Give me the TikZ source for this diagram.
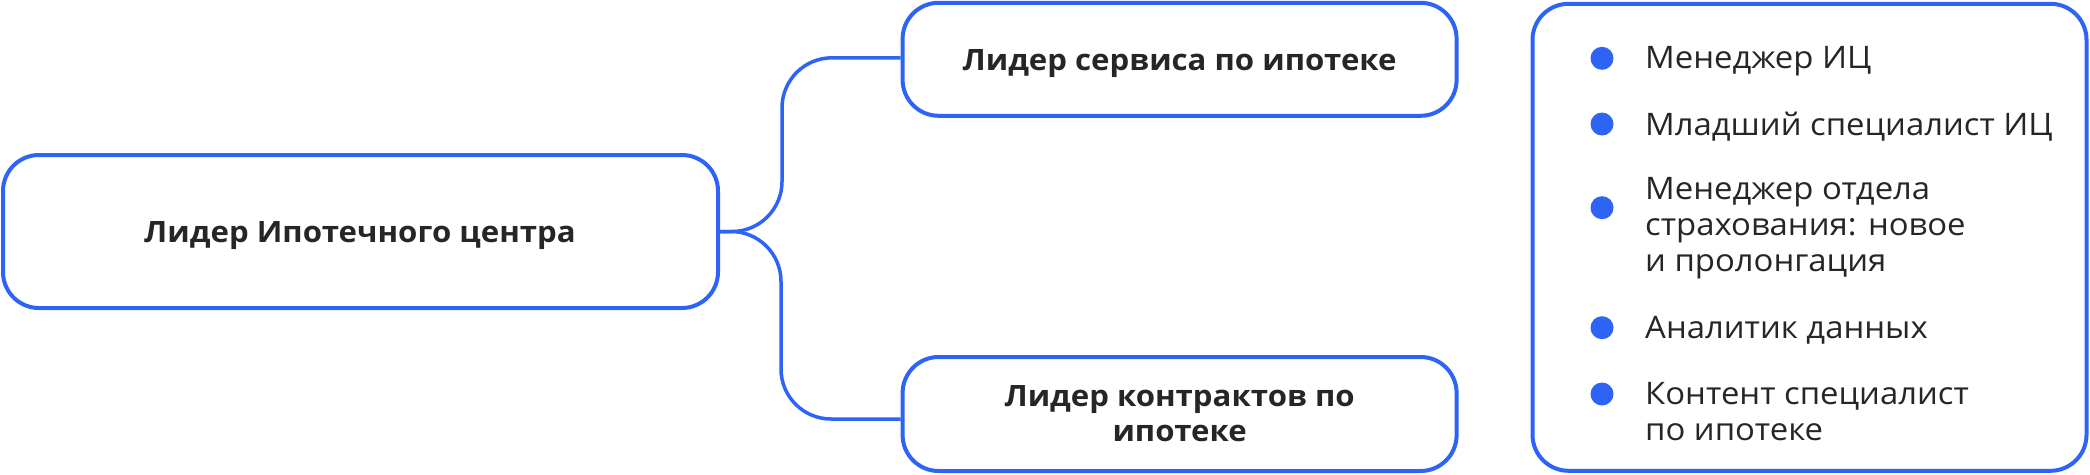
\documentclass[tikz,border=0pt]{standalone}
\usepackage{fontspec}
\setmainfont{Open Sans}[FakeStretch=1.06]
\definecolor{bl}{HTML}{2D64F5}
\definecolor{tx}{HTML}{262626}
\begin{document}
\begin{tikzpicture}[x=1pt,y=-1pt,
  box/.style={draw=bl, line width=4pt, rounded corners=36pt, fill=white, inner sep=0pt},
  conn/.style={draw=bl, line width=3.5pt, rounded corners=50pt},
  lbl/.style={text=tx, font=\fontsize{31}{36}\selectfont, inner sep=0pt},
  blbl/.style={text=tx, font=\fontsize{29.4}{35}\selectfont\bfseries, inner sep=0pt, align=center},
  dot/.style={circle, fill=bl, minimum size=23pt, inner sep=0pt}]
\useasboundingbox (0,0) rectangle (2090,474);
% boxes
\node[box, minimum width=715pt, minimum height=153pt] (lead) at (360.5,231.5) {};
\node[box, minimum width=554pt, minimum height=113pt] (s1) at (1179.6,59.3) {};
\node[box, minimum width=554pt, minimum height=114pt] (s2) at (1179.6,414) {};
\node[box, minimum width=554pt, minimum height=467pt] (list) at (1809.5,237.3) {};
% box texts
\node[blbl, anchor=base] (leadt) at (360,242.5) {Лидер Ипотечного центра};
\node[blbl, anchor=base] (s1t) at (1179.6,70) {Лидер сервиса по ипотеке};
\node[blbl, anchor=base] (s2t) at (1179.6,441) {Лидер контрактов по\\ипотеке};
% connectors
\coordinate (j1) at (782,0);
\coordinate (j2) at (781,0);
\coordinate (s1in) at ([yshift=1.5pt]s1.west);
\coordinate (s2in) at ([yshift=-5pt]s2.west);
\draw[conn] (lead.east) -- (lead.east -| j1) -- (j1 |- s1in) -- (s1in);
\draw[conn] (lead.east) -- (lead.east -| j2) -- (j2 |- s2in) -- (s2in);
% list
\node[dot] (b1) at (1602,58.3) {};
\node[dot] (b2) at (1602,124) {};
\node[dot] (b3) at (1602,207.7) {};
\node[dot] (b4) at (1602,327.7) {};
\node[dot] (b5) at (1602,394) {};
\node[lbl, anchor=base west] (t1) at (1645,68.3) {Менеджер ИЦ};
\node[lbl, anchor=base west] (t2) at (1645,135) {Младший специалист ИЦ};
\node[lbl, anchor=base west, align=left] (t3) at (1645,271.7) {Менеджер отдела\\страхования: новое\\и пролонгация};
\node[lbl, anchor=base west] (t4) at (1645,338.3) {Аналитик данных};
\node[lbl, anchor=base west, align=left] (t5) at (1645,440) {Контент специалист\\по ипотеке};
\end{tikzpicture}
\end{document}
